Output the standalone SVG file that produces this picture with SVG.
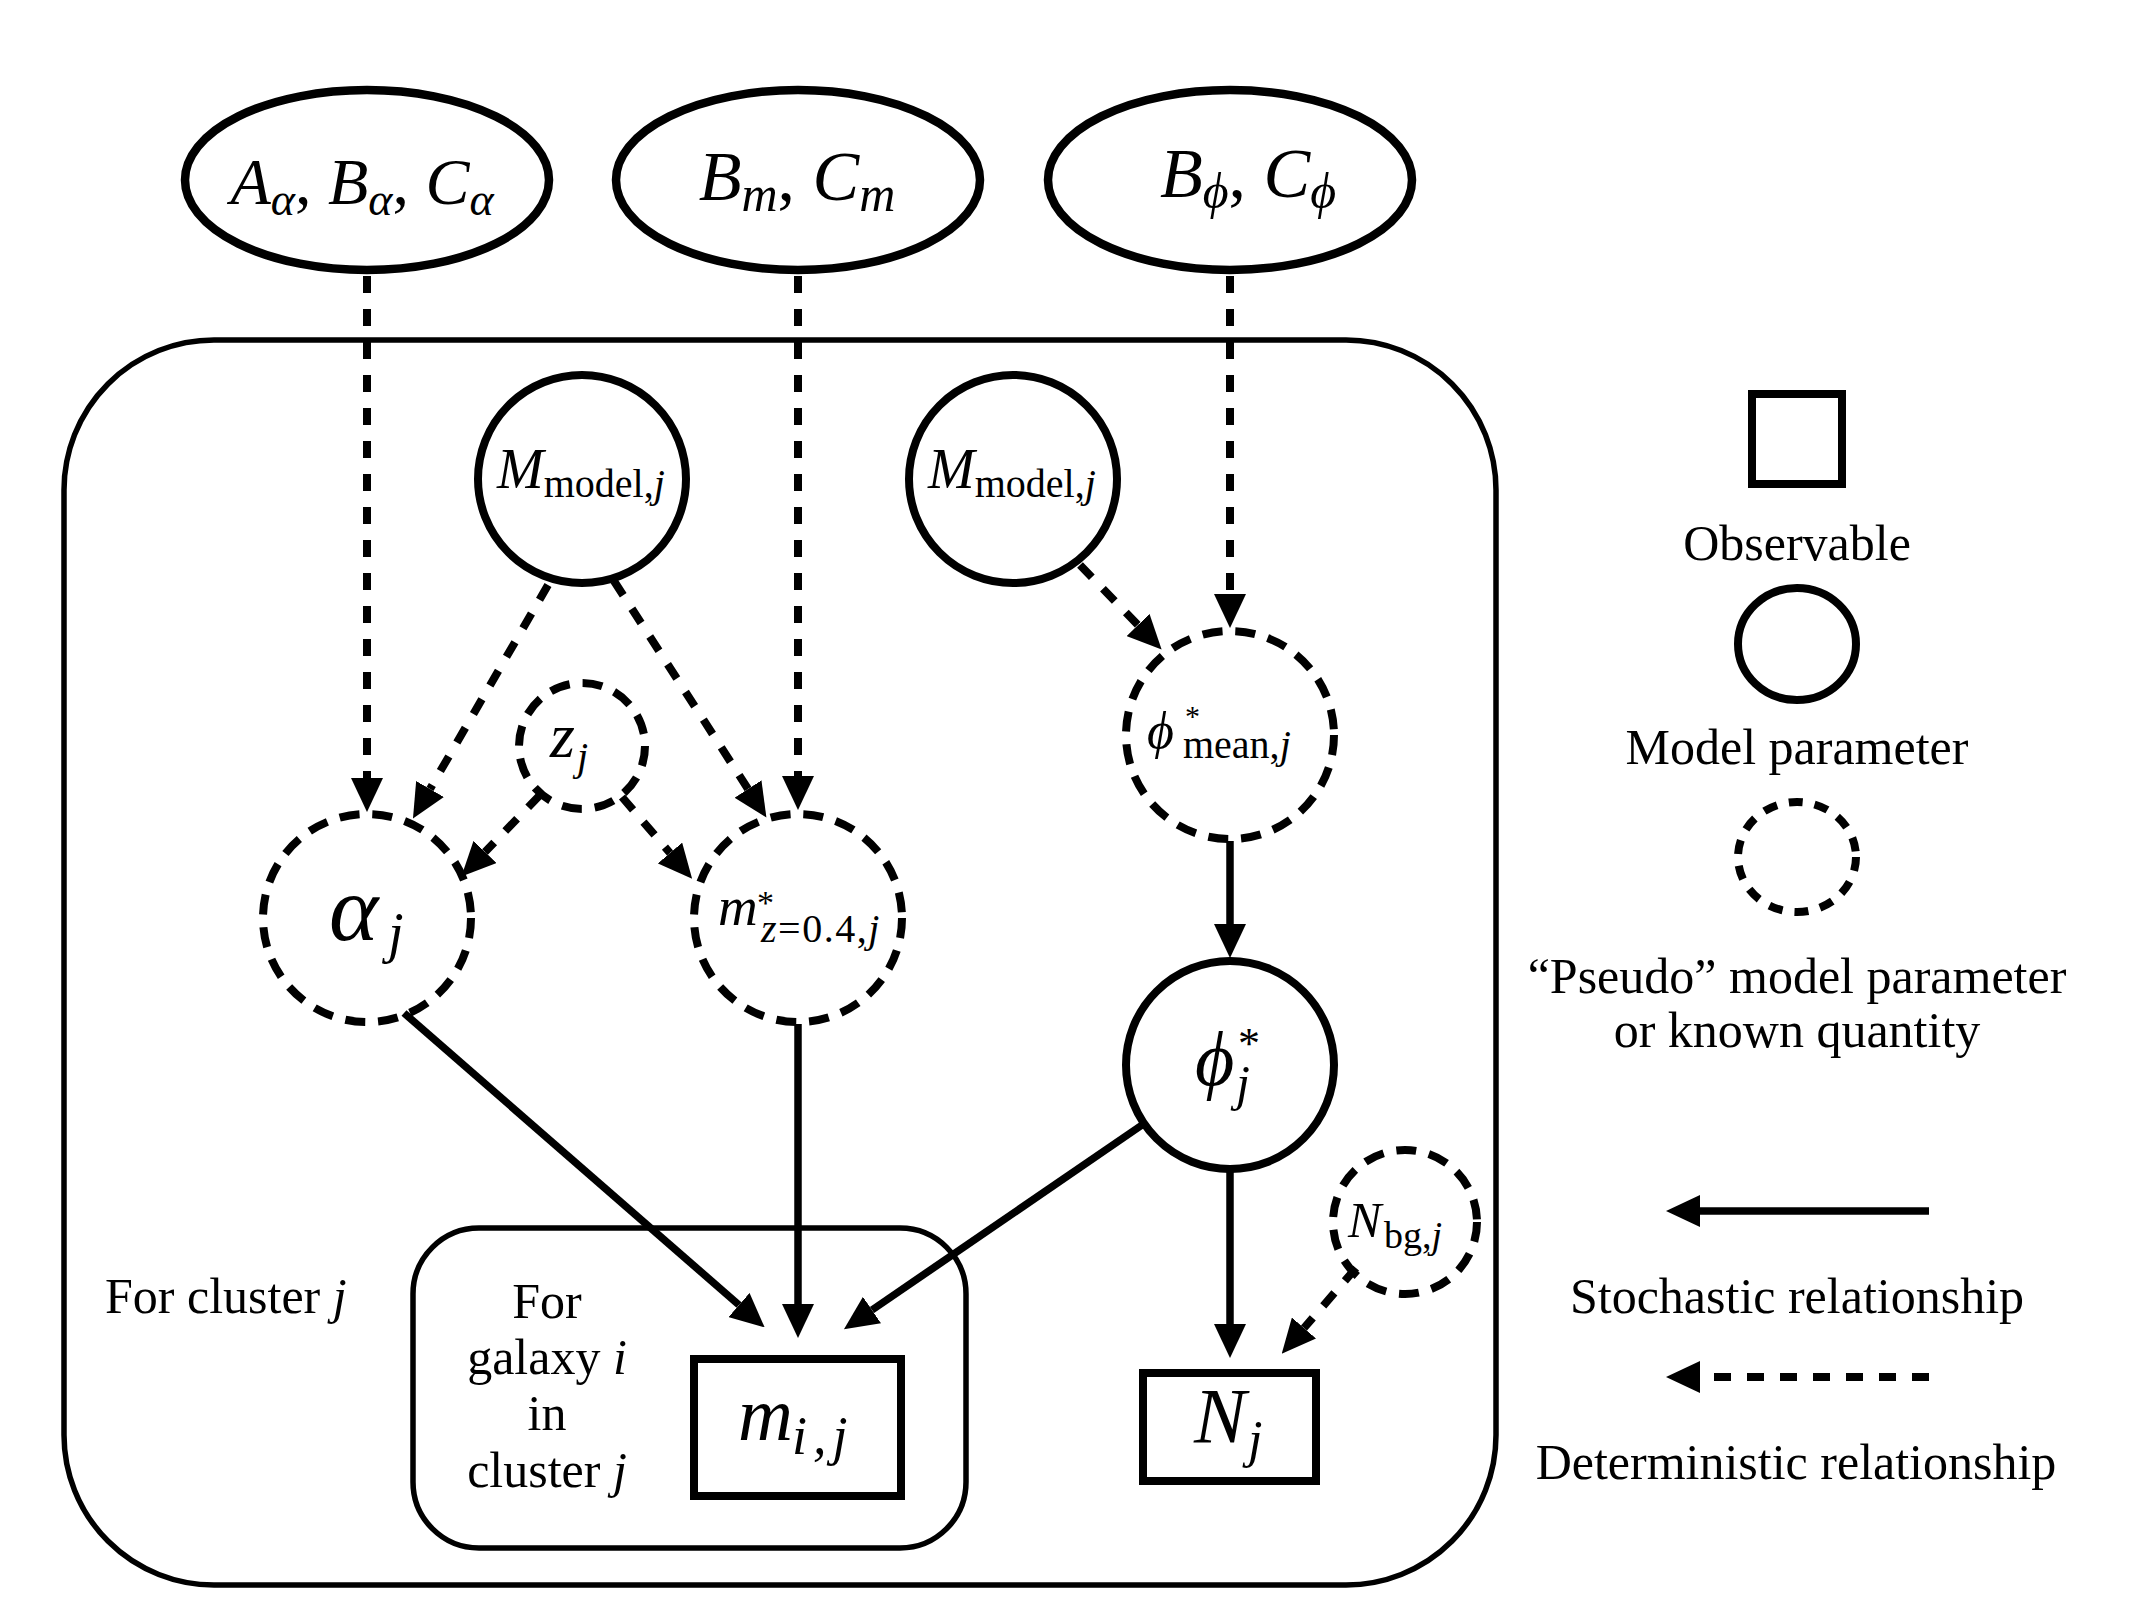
<svg xmlns="http://www.w3.org/2000/svg" width="2133" height="1600" viewBox="0 0 2133 1600">
<style>
.bg{fill:#fff}
.node{fill:none;stroke:#000;stroke-width:8}
.top{stroke-width:8.5}
.dn{stroke-dasharray:20 13}
.frame{fill:none;stroke:#000;stroke-width:5.5}
.obs{fill:none;stroke:#000;stroke-width:8}
.sto{fill:none;stroke:#000;stroke-width:7.5;marker-end:url(#ah)}
.det{fill:none;stroke:#000;stroke-width:8;stroke-dasharray:17 16;marker-end:url(#ah)}
.math{font-family:"Liberation Serif","DejaVu Serif",serif;font-style:italic;fill:#000}
.rm{font-style:normal}
.lbl{font-family:"Liberation Serif","Times New Roman",serif;font-size:50px;fill:#000}
</style>
<defs>
<marker id="ah" markerUnits="userSpaceOnUse" markerWidth="34" markerHeight="32" refX="0" refY="16" orient="auto" viewBox="0 0 34 32"><path d="M0,0 L34,16 L0,32 z" fill="#000"/></marker>
</defs>
<rect class="bg" x="0" y="0" width="2133" height="1600"/>

<g id="plate-cluster">
<rect class="frame" x="64" y="340" width="1432" height="1245" rx="150" ry="150"/>
<text class="lbl" x="105" y="1313">For cluster <tspan font-style="italic">j</tspan></text>
</g>
<g id="plate-galaxy">
<rect class="frame" x="413" y="1228" width="553" height="320" rx="66" ry="66"/>
<text class="lbl" text-anchor="middle" x="547" y="1318">For</text>
<text class="lbl" text-anchor="middle" x="547" y="1374">galaxy <tspan font-style="italic">i</tspan></text>
<text class="lbl" text-anchor="middle" x="547" y="1430">in</text>
<text class="lbl" text-anchor="middle" x="547" y="1487">cluster <tspan font-style="italic">j</tspan></text>
</g>

<g id="connectors">
<line class="det" x1="367" y1="276" x2="367" y2="778"/>
<line class="det" x1="798" y1="276" x2="798" y2="776"/>
<line class="det" x1="1230" y1="276" x2="1230" y2="594"/>
<line class="det" x1="548" y1="585" x2="430" y2="789"/>
<line class="det" x1="614" y1="581" x2="748" y2="789"/>
<line class="det" x1="540" y1="795" x2="485" y2="852"/>
<line class="det" x1="622" y1="797" x2="670" y2="853"/>
<line class="det" x1="1080" y1="565" x2="1138" y2="625"/>
<line class="det" x1="1356" y1="1268" x2="1304" y2="1328"/>
<line class="sto" x1="404" y1="1013" x2="739" y2="1305"/>
<line class="sto" x1="798" y1="1024" x2="798" y2="1304"/>
<line class="sto" x1="1142" y1="1125" x2="872" y2="1310"/>
<line class="sto" x1="1230" y1="841" x2="1230" y2="924"/>
<line class="sto" x1="1230" y1="1171" x2="1230" y2="1324"/>
</g>

<g id="n-Aalpha">
<ellipse class="node top" cx="367" cy="180" rx="182" ry="90"/>
<text class="math" text-anchor="middle" x="362" y="204" font-size="66">A<tspan font-size="46" dy="11">α</tspan><tspan class="rm" dy="-11">, </tspan>B<tspan font-size="46" dy="11">α</tspan><tspan class="rm" dy="-11">, </tspan>C<tspan font-size="46" dy="11">α</tspan></text>
</g>
<g id="n-Bm">
<ellipse class="node top" cx="798" cy="180" rx="182" ry="90"/>
<text class="math" text-anchor="middle" x="797" y="200" font-size="70">B<tspan font-size="50" dy="11">m</tspan><tspan class="rm" dy="-11">, </tspan>C<tspan font-size="50" dy="11">m</tspan></text>
</g>
<g id="n-Bphi">
<ellipse class="node top" cx="1230" cy="180" rx="182" ry="90"/>
<text class="math" text-anchor="middle" x="1248" y="197" font-size="70">B<tspan font-size="50" dy="11">ϕ</tspan><tspan class="rm" dy="-11">, </tspan>C<tspan font-size="50" dy="11">ϕ</tspan></text>
</g>

<g id="n-Mmodel1">
<circle class="node" cx="582" cy="479" r="104"/>
<text class="math" x="497" y="488" font-size="56">M<tspan class="rm" font-size="40" y="497">model,</tspan><tspan font-size="40" y="497">j</tspan></text>
</g>
<g id="n-Mmodel2">
<circle class="node" cx="1013" cy="479" r="104"/>
<text class="math" x="928" y="488" font-size="56">M<tspan class="rm" font-size="40" y="497">model,</tspan><tspan font-size="40" y="497">j</tspan></text>
</g>
<g id="n-z">
<circle class="node dn" cx="582" cy="746" r="63"/>
<text class="math" x="550" y="757" font-size="64">z<tspan font-size="40" x="577" y="770">j</tspan></text>
</g>
<g id="n-alpha">
<circle class="node dn" cx="367" cy="918" r="104"/>
<text class="math" x="329" y="940" font-size="94">α<tspan font-size="56" x="388" y="952">j</tspan></text>
</g>
<g id="n-mstar">
<circle class="node dn" cx="798" cy="918" r="104"/>
<text class="math" x="718" y="925" font-size="55">m<tspan class="rm" font-size="34" x="757" y="914">*</tspan><tspan font-size="40" letter-spacing="1.5" x="761" y="942">z<tspan class="rm">=0.4,</tspan>j</tspan></text>
</g>
<g id="n-phimean">
<circle class="node dn" cx="1230" cy="735" r="104"/>
<text class="math" x="1147" y="748" font-size="52">ϕ<tspan class="rm" font-size="30" x="1185" y="726">*</tspan><tspan class="rm" font-size="40" x="1183" y="758">mean,</tspan><tspan font-size="40" y="758">j</tspan></text>
</g>
<g id="n-phistar">
<circle class="node" cx="1230" cy="1065" r="104"/>
<text class="math" x="1195" y="1085" font-size="76">ϕ<tspan class="rm" font-size="44" x="1238" y="1058">*</tspan><tspan font-size="50" x="1236" y="1100">j</tspan></text>
</g>
<g id="n-Nbg">
<circle class="node dn" cx="1405" cy="1222" r="72"/>
<text class="math" x="1348" y="1237" font-size="50">N<tspan class="rm" font-size="38" x="1384" y="1248">bg,</tspan><tspan font-size="38" y="1248">j</tspan></text>
</g>
<g id="n-mij">
<rect class="obs" x="694" y="1359" width="207" height="137"/>
<text class="math" x="738" y="1440" font-size="76">m<tspan font-size="54" letter-spacing="6" x="792" y="1454">i,j</tspan></text>
</g>
<g id="n-Nj">
<rect class="obs" x="1143" y="1373" width="173" height="108"/>
<text class="math" x="1194" y="1442" font-size="78">N<tspan font-size="52" x="1248" y="1457">j</tspan></text>
</g>

<g id="legend">
<rect class="obs" x="1752" y="394" width="90" height="90"/>
<text class="lbl" text-anchor="middle" x="1797" y="560">Observable</text>
<ellipse class="node" cx="1797" cy="644" rx="59" ry="56"/>
<text class="lbl" text-anchor="middle" x="1797" y="764">Model parameter</text>
<ellipse class="node" cx="1797" cy="857" rx="59" ry="55" stroke-dasharray="14 12"/>
<text class="lbl" text-anchor="middle" x="1797" y="993">“Pseudo” model parameter</text>
<text class="lbl" text-anchor="middle" x="1797" y="1047">or known quantity</text>
<line class="sto" x1="1929" y1="1211" x2="1700" y2="1211"/>
<text class="lbl" text-anchor="middle" x="1797" y="1313">Stochastic relationship</text>
<line class="det" x1="1929" y1="1377" x2="1700" y2="1377" stroke-width="9" stroke-dasharray="17 16"/>
<text class="lbl" text-anchor="middle" x="1796" y="1479">Deterministic relationship</text>
</g>
</svg>
